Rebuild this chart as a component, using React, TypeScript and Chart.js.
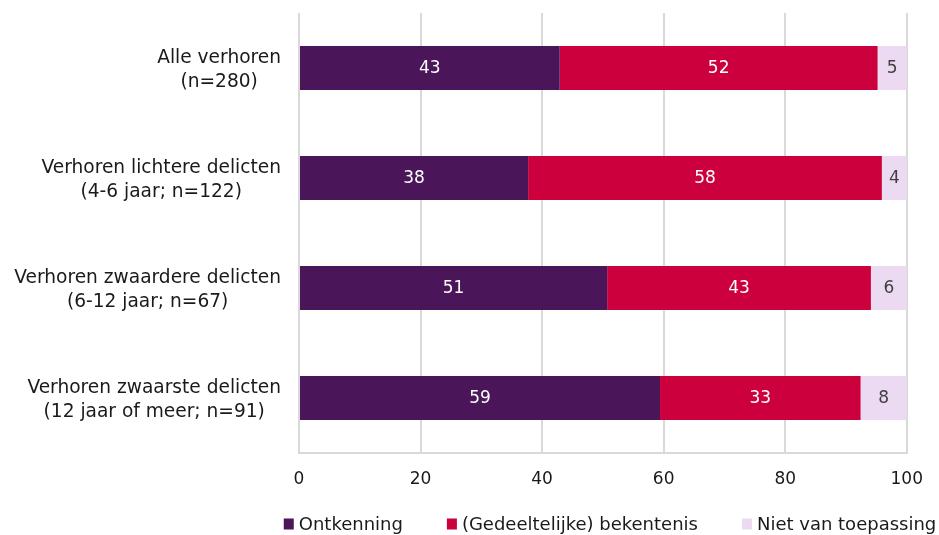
import React, { useEffect, useRef } from "react";
import { Chart, registerables } from "chart.js";

Chart.register(...registerables);

const categories: string[][] = [
  ["Alle verhoren", "(n=280)"],
  ["Verhoren lichtere delicten", "(4-6 jaar; n=122)"],
  ["Verhoren zwaardere delicten", "(6-12 jaar; n=67)"],
  ["Verhoren zwaarste delicten", "(12 jaar of meer; n=91)"],
];
const ontkenning = [42.9, 37.7, 50.7, 59.4];
const bekentenis = [52.3, 58.2, 43.4, 33.0];
const nietVanToepassing = [4.8, 4.1, 5.9, 7.6];
const xTicks = [0, 20, 40, 60, 80, 100];
const seriesNames = ["Ontkenning", "(Gedeeltelijke) bekentenis", "Niet van toepassing"];

const COLORS = ["#4a1559", "#cc003c", "#ecdaf3"];
const LABEL_COLORS = ["#ffffff", "#ffffff", "#404040"];
const FONT = "DejaVu Sans";
const FS = 17;
const CAT_FS = 18.6;
const LEG_FS = 18;

const labelsPlugin = {
  id: "customLabels",
  afterDatasetsDraw(chart: any) {
    const ctx = chart.ctx;
    ctx.save();
    ctx.font = `${FS}px "${FONT}"`;
    ctx.textAlign = "center";
    ctx.textBaseline = "middle";
    chart.data.datasets.forEach((ds: any, di: number) => {
      const meta = chart.getDatasetMeta(di);
      meta.data.forEach((bar: any, i: number) => {
        const v = ds.data[i];
        const cx = (bar.x + bar.base) / 2;
        ctx.fillStyle = LABEL_COLORS[di];
        ctx.fillText(String(Math.round(v)), cx, bar.y + 1);
      });
    });
    ctx.restore();
  },
  afterDraw(chart: any) {
    const ctx = chart.ctx;
    ctx.save();
    ctx.font = `${CAT_FS}px "${FONT}"`;
    ctx.fillStyle = "#1a1a1a";
    ctx.textBaseline = "middle";
    // category labels
    const yScale = chart.scales.y;
    const right = chart.chartArea.left - 18;
    const lh = 24;
    categories.forEach((lines, i) => {
      const cy = yScale.getPixelForValue(i) + 2;
      const maxW = Math.max(...lines.map((l) => ctx.measureText(l).width));
      const cx = right - maxW / 2;
      ctx.textAlign = "center";
      lines.forEach((l, j) => {
        const y = cy + (j - (lines.length - 1) / 2) * lh;
        ctx.fillText(l, cx, y);
      });
    });
    // legend
    ctx.font = `${LEG_FS}px "${FONT}"`;
    const box = 10;
    const gap = 5;
    const spacing = 44;
    const widths = seriesNames.map((t) => box + gap + ctx.measureText(t).width);
    const total = widths.reduce((a, b) => a + b, 0) + spacing * (widths.length - 1);
    let x = 610 - total / 2;
    const ly = 524;
    ctx.textAlign = "left";
    seriesNames.forEach((t, i) => {
      ctx.fillStyle = COLORS[i];
      ctx.fillRect(x, ly - 5.5, box, 11);
      ctx.fillStyle = "#1a1a1a";
      ctx.fillText(t, x + box + gap, ly + 1);
      x += widths[i] + spacing;
    });
    ctx.restore();
  },
};

export default function App() {
  const ref = useRef<HTMLCanvasElement>(null);
  useEffect(() => {
    if (!ref.current) return;
    const chart = new Chart(ref.current, {
      type: "bar",
      data: {
        labels: categories.map((c) => c.join(" ")),
        datasets: [
          { label: seriesNames[0], data: ontkenning, backgroundColor: COLORS[0] },
          { label: seriesNames[1], data: bekentenis, backgroundColor: COLORS[1] },
          { label: seriesNames[2], data: nietVanToepassing, backgroundColor: COLORS[2] },
        ],
      },
      plugins: [labelsPlugin],
      options: {
        indexAxis: "y",
        responsive: false,
        animation: false,
        devicePixelRatio: 1,
        layout: { padding: { top: 13, right: 31, bottom: 0, left: 0 } },
        datasets: { bar: { categoryPercentage: 1, barPercentage: 0.4 } },
        plugins: { legend: { display: false }, tooltip: { enabled: false } },
        scales: {
          x: {
            stacked: true,
            min: 0,
            max: 100,
            afterBuildTicks: (scale: any) => {
              scale.ticks = xTicks.map((v) => ({ value: v }));
            },
            afterFit: (scale: any) => {
              scale.height = 82;
            },
            grid: { color: "#d9d9d9", lineWidth: 2, drawTicks: false },
            border: { display: true, color: "#d9d9d9", width: 2 },
            ticks: {
              padding: 16,
              color: "#1a1a1a",
              font: { family: FONT, size: FS },
            },
          },
          y: {
            stacked: true,
            afterFit: (scale: any) => {
              scale.width = 299;
            },
            grid: { display: false },
            border: { display: false },
            ticks: { display: false },
          },
        },
      },
    });
    return () => chart.destroy();
  }, []);
  return (
    <div style={{ position: "absolute", left: 0, top: 0, width: 939, height: 535, background: "#fff" }}>
      <canvas ref={ref} width={939} height={535} />
    </div>
  );
}
